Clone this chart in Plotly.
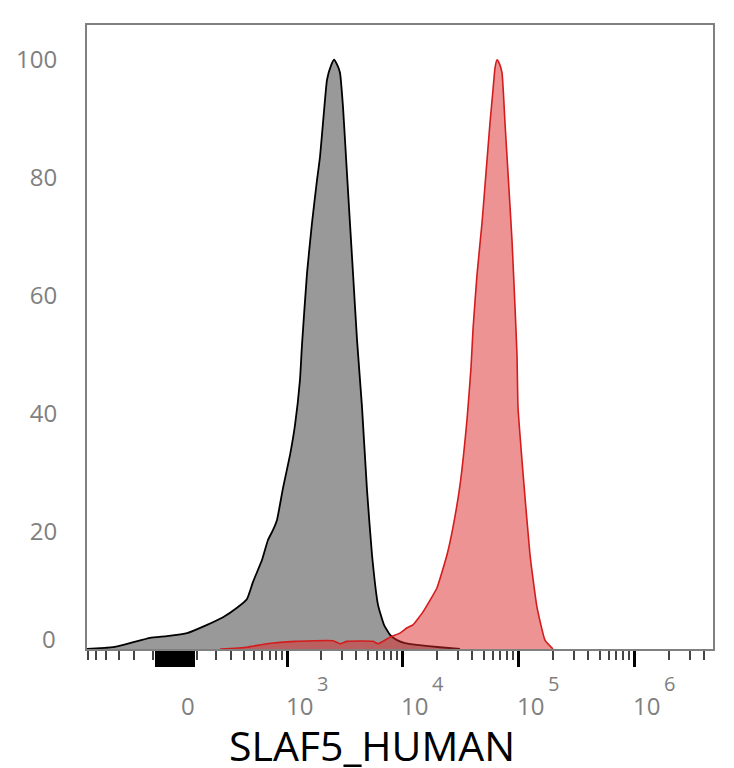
import numpy as np
import plotly.graph_objects as go

# ---- data (fluorescence intensity vs. % of max) --------------------------------
gray_x = [-609, -412, -343, -223, -113, -35, 53, 149, 242, 343, 431, 492, 596, 676, 751, 815,
          921, 1062, 1175, 1300, 1353, 1497, 1654, 1829, 1941, 2061, 2232, 2417, 2567, 2724,
          2893, 3070, 3259, 3458, 3746, 4056, 4479, 4947, 5464, 6156, 6936, 7814, 8979,
          10523, 13355, 21079, 31361]
gray_y = [0, 0.2, 0.3, 1.0, 1.9, 2.2, 2.7, 4.1, 5.4, 7.0, 8.5, 11.4, 15.1, 18.5, 20.2, 21.9,
          27.3, 32.9, 38.0, 45.7, 51.6, 63.8, 72.3, 79.6, 83.5, 89.3, 96.6, 99.0, 100, 99.2,
          97.8, 92.0, 83.5, 75.0, 63.8, 52.5, 41.1, 27.0, 16.0, 7.5, 4.1, 2.4, 1.5,
          1.0, 0.7, 0.3, 0]

red_x = [223, 431, 662, 1175, 2516, 2893, 3325, 5574, 6156, 7814, 9529, 10950, 12334, 15045,
         19863, 24228, 27297, 31361, 36028, 39005, 40590, 43940, 48530, 52530, 56880, 60370,
         62810, 65350, 68000, 72180, 76600, 81310, 88020, 93420, 97210, 99160, 109500,
         125830, 144560, 169450, 198610]
red_y = [0, 0.3, 0.9, 1.3, 1.4, 0.9, 1.3, 1.3, 0.9, 2.0, 2.7, 3.6, 4.1, 6.3,
         10.4, 16.0, 20.7, 27.8, 38.9, 47.7, 54.2, 63.5, 72.3, 80.8, 89.3, 94.9,
         98.6, 100, 99.5, 97.8, 89.3, 80.8, 69.4, 58.1, 49.9, 41.1, 29.9,
         16.0, 7.1, 1.5, 0]

x_major = [0, 1e3, 1e4, 1e5, 1e6]
x_base = ["0", "10", "10", "10", "10"]
x_exp = ["", "3", "4", "5", "6"]
y_ticks = [20, 40, 60, 80, 100]
x_title = "SLAF5_HUMAN"

# ---- biexponential-like display scale (arcsinh) ---------------------------------
C = 219.0
def disp(v):
    return np.arcsinh(np.asarray(v, dtype=float) / C) / np.log(10)

x_lo, x_hi = -0.7586, 4.638
near0 = [s * m * 10 for s in (-1, 1) for m in range(1, 9)]           # dense block round 0
minor = ([-m * 100 for m in range(1, 10)] + [m * 100 for m in range(1, 10)]
         + [m * 10 ** e for e in (3, 4, 5) for m in range(2, 10)] + [2e6, 3e6, 4e6])

GREY = "#7f7f7f"
FONT = "Open Sans"

fig = go.Figure()
fig.add_trace(go.Scatter(x=disp(gray_x), y=gray_y, mode="lines", fill="tozeroy",
                         fillcolor="#999999", line=dict(color="black", width=1.8, shape="spline", smoothing=0.4),
                         showlegend=False, hoverinfo="skip"))
fig.add_trace(go.Scatter(x=disp(red_x), y=red_y, mode="lines", fill="tozeroy",
                         fillcolor="rgba(222,40,40,0.5)",
                         line=dict(color="#d41c1c", width=1.6, shape="spline", smoothing=0.4),
                         showlegend=False, hoverinfo="skip"))

fig.update_xaxes(range=[x_lo, x_hi], showgrid=False, zeroline=False, automargin=False,
                 showline=True, mirror=True, linecolor="#808080", linewidth=2,
                 tickmode="array", tickvals=list(disp(x_major + near0)), showticklabels=False,
                 ticks="outside", ticklen=16, tickwidth=3, tickcolor="black",
                 minor=dict(tickmode="array", tickvals=list(disp(minor)), ticks="outside",
                            ticklen=9, tickwidth=1.5, tickcolor="#444444", showgrid=False))
fig.update_yaxes(range=[0, 105.9], showgrid=False, zeroline=False, automargin=False,
                 showline=True, mirror=True, linecolor="#808080", linewidth=2,
                 tickmode="array", tickvals=y_ticks, ticktext=[str(v) for v in y_ticks],
                 ticks="", ticklabelstandoff=23,
                 tickfont=dict(family=FONT, size=24, color=GREY))

ann = []
for v, b, e in zip(x_major, x_base, x_exp):
    xv = float(disp(v))
    ann.append(dict(x=xv, xref="x", y=-0.0913, yref="paper", text=b, showarrow=False,
                    xanchor="left", yanchor="middle", xshift=5 if e == "" else -2, borderpad=0,
                    font=dict(family=FONT, size=24, color=GREY)))
    if e:
        ann.append(dict(x=xv, xref="x", y=-0.0560, yref="paper", text=e, showarrow=False,
                        xanchor="left", yanchor="middle", xshift=29, borderpad=0,
                        font=dict(family=FONT, size=20, color=GREY)))
# y "0" label sits a little above the baseline
ann.append(dict(x=-0.046, xref="paper", y=0.0176, yref="paper", text="0", showarrow=False,
                xanchor="right", yanchor="middle", font=dict(family=FONT, size=24, color=GREY)))
ann.append(dict(x=0.455, xref="paper", y=-0.1538, yref="paper", text=x_title, showarrow=False,
                xanchor="center", yanchor="middle", font=dict(family=FONT, size=41, color="black")))

fig.update_layout(width=726, height=760, margin=dict(l=79, r=21, t=17, b=119),
                  paper_bgcolor="white", plot_bgcolor="white", annotations=ann)

fig.write_html("out.html")
